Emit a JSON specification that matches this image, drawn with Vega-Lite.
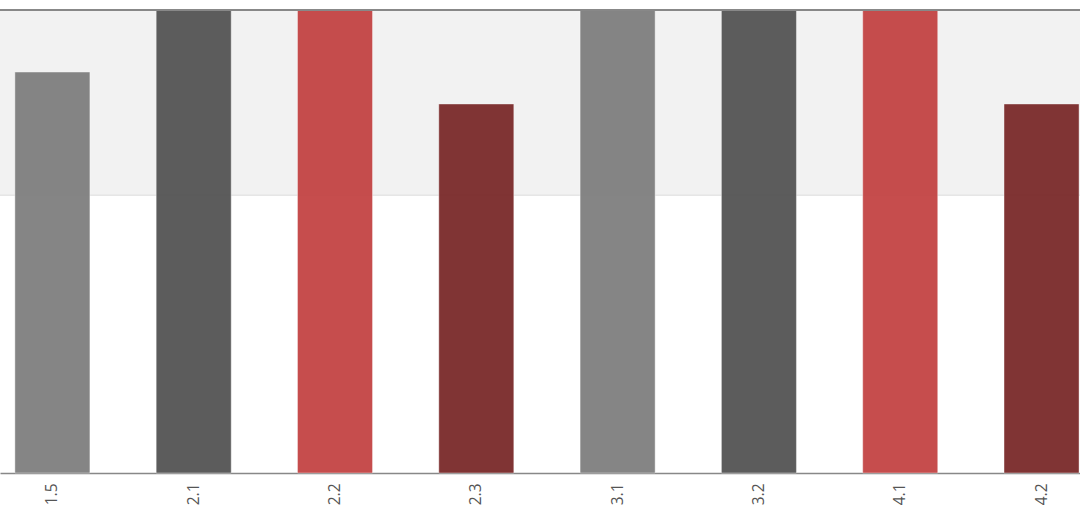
{
  "$schema": "https://vega.github.io/schema/vega-lite/v6.json",
  "width": 1080,
  "height": 463,
  "autosize": "none",
  "padding": {"top": 10, "left": 0, "right": 0, "bottom": 54},
  "background": "#ffffff",
  "config": {"view": {"stroke": null}, "font": "Open Sans"},
  "datasets": {
    "bars": [
      {"cat": "1.5", "series": "A", "value": 86.6},
      {"cat": "2.1", "series": "B", "value": 100},
      {"cat": "2.2", "series": "C", "value": 100},
      {"cat": "2.3", "series": "D", "value": 79.7},
      {"cat": "3.1", "series": "A", "value": 100},
      {"cat": "3.2", "series": "B", "value": 100},
      {"cat": "4.1", "series": "C", "value": 100},
      {"cat": "4.2", "series": "D", "value": 79.7}
    ],
    "band": [{"from": 60, "to": 100}]
  },
  "layer": [
    {
      "data": {"name": "band"},
      "mark": {"type": "rect", "color": "#f2f2f2"},
      "encoding": {
        "y": {"field": "from", "type": "quantitative", "scale": {"domain": [0, 100]}, "axis": null},
        "y2": {"field": "to"}
      }
    },
    {
      "data": {"name": "band"},
      "mark": {"type": "rule", "color": "#dcdcdc", "strokeWidth": 1},
      "encoding": {
        "y": {"field": "from", "type": "quantitative", "scale": {"domain": [0, 100]}, "axis": null}
      }
    },
    {
      "data": {"name": "bars"},
      "mark": {"type": "bar", "stroke": "#ffffff", "strokeOpacity": 0.4, "strokeWidth": 1, "opacity": 0.95},
      "encoding": {
        "x": {
          "field": "cat", "type": "ordinal", "sort": null,
          "scale": {"paddingInner": 0.469, "paddingOuter": 0.056, "align": 0.94},
          "axis": {
            "title": null, "labelAngle": 270, "labelFontSize": 15.5, "labelColor": "#555555",
            "labelPadding": 10, "ticks": false, "domainColor": "#888888", "domainWidth": 1.5,
            "labelFont": "Open Sans"
          }
        },
        "y": {"field": "value", "type": "quantitative", "scale": {"domain": [0, 100]}, "axis": null},
        "color": {
          "field": "series", "type": "nominal",
          "scale": {"domain": ["A", "B", "C", "D"], "range": ["#7f7f7f", "#545454", "#c34444", "#7a2a2a"]},
          "legend": null
        }
      }
    },
    {
      "data": {"name": "band"},
      "mark": {"type": "rule", "color": "#888888", "strokeWidth": 2},
      "encoding": {
        "y": {"field": "to", "type": "quantitative", "scale": {"domain": [0, 100]}, "axis": null}
      }
    }
  ]
}
